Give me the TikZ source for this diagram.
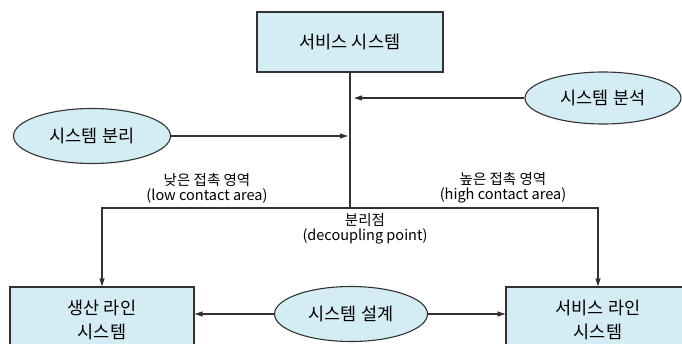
\documentclass[tikz,border=0pt]{standalone}
\usepackage{fontspec}
\setmainfont{Noto Sans CJK KR}
\usetikzlibrary{shapes.geometric,arrows.meta}
\definecolor{boxblue}{RGB}{212,236,244}
\definecolor{linegray}{RGB}{50,50,50}
\begin{document}
\begin{tikzpicture}[x=1pt,y=-1pt,
    sysbox/.style={draw=linegray, line width=1.1pt, fill=boxblue, align=center,
        font=\fontsize{17.5}{24}\selectfont, inner sep=0pt},
    sysoval/.style={ellipse, draw=linegray, line width=1.1pt, fill=boxblue,
        font=\fontsize{17.5}{20}\selectfont, inner sep=0pt},
    arealbl/.style={align=center, font=\fontsize{14.5}{15}\selectfont, inner sep=0pt},
    link/.style={linegray, line width=1.1pt},
    tip/.style={link, -{Triangle[length=8pt,width=5pt]}}]
        \useasboundingbox (0,0) rectangle (682,343);
        \clip (0,0) rectangle (682,343);
        % boxes
        \node[sysbox, minimum width=186pt, minimum height=60pt] (svc) at (350,42) {서비스 시스템};
        \node[sysbox, minimum width=184pt, minimum height=66pt] (prod) at (102,320) {생산 라인\\시스템};
        \node[sysbox, minimum width=184pt, minimum height=66pt] (line) at (598,320) {서비스 라인\\시스템};
        % ovals
        \node[sysoval, minimum width=156pt, minimum height=52pt] (ana) at (603,98) {시스템 분석};
        \node[sysoval, minimum width=157pt, minimum height=55pt] (sep) at (92,136) {시스템 분리};
        \node[sysoval, minimum width=153pt, minimum height=55pt] (des) at (351,314) {시스템 설계};
        % decoupling point
        \coordinate (dp) at (350,208);
        \draw[link] (svc.south) -- (dp);
        \draw[tip] (dp) -| (prod.north);
        \draw[tip] (dp) -| (line.north);
        \draw[tip, shorten >=4pt] (ana.west) -- (ana.west -| dp);
        \draw[tip, shorten >=2pt] (sep.east) -- (sep.east -| dp);
        \draw[tip] (des.west) -- (des.west -| prod.east);
        \draw[tip] (des.east) -- (des.east -| line.west);
        % labels
        \node[arealbl] (lowlbl) at (207,188) {낮은 접촉 영역\\(low contact area)};
        \node[arealbl] (highlbl) at (503,188) {높은 접촉 영역\\(high contact area)};
        \node[arealbl] (dplbl) at (365,229) {분리점\\(decoupling point)};
\end{tikzpicture}
\end{document}
